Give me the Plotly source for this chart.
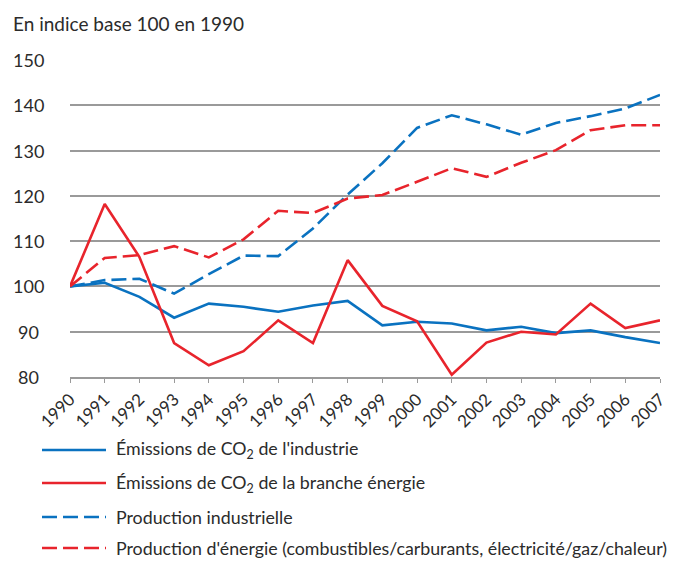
import plotly.graph_objects as go

years = list(range(1990, 2008))
co2_industrie = [100, 100.8, 97.7, 93.1, 96.2, 95.5, 94.4, 95.8, 96.8, 91.4, 92.2, 91.8, 90.3, 91.1, 89.7, 90.3, 88.8, 87.5]
co2_energie = [100, 118.2, 106.5, 87.5, 82.6, 85.7, 92.5, 87.5, 105.8, 95.7, 92.3, 80.5, 87.6, 90.0, 89.4, 96.2, 90.8, 92.5]
prod_industrielle = [100, 101.4, 101.7, 98.4, 102.7, 106.8, 106.7, 112.8, 120.3, 127.2, 135.0, 137.8, 135.8, 133.5, 136.1, 137.6, 139.3, 142.3]
prod_energie = [100, 106.3, 106.9, 108.9, 106.4, 110.4, 116.7, 116.2, 119.4, 120.2, 123.1, 126.1, 124.2, 127.3, 130.1, 134.5, 135.6, 135.6]

names = [
    "Émissions de CO<sub>2</sub> de l'industrie",
    "Émissions de CO<sub>2</sub> de la branche énergie",
    "Production industrielle",
    "Production d'énergie (combustibles/carburants, électricité/gaz/chaleur)",
]
y_ticks = [80, 90, 100, 110, 120, 130, 140, 150]
title_text = "En indice base 100 en 1990"

BLUE = "#0a72c0"
RED = "#e8242c"
FONT = "Lato, Liberation Sans, sans-serif"
TXT = "#2b2b2b"
DASH = "15px,6px"

series = [
    (co2_industrie, BLUE, "solid"),
    (co2_energie, RED, "solid"),
    (prod_industrielle, BLUE, DASH),
    (prod_energie, RED, DASH),
]

# the page body adds an 8px offset; figure is sized to fill the rest of the window
OFF = 8
W, H = 678 - OFF, 561 - OFF
ML, MT = 70 - OFF, 60 - OFF
MR = W - (660 - OFF)
MB = H - (377 - OFF)
PW, PH = W - ML - MR, H - MT - MB


def px_x(px):
    return (px - OFF - ML) / PW


def px_y(py):
    return (H - MB - (py - OFF)) / PH


fig = go.Figure()
shapes = []
annotations = [dict(
    text=title_text, xref="paper", yref="paper",
    x=px_x(11), y=px_y(23), xanchor="left", yanchor="middle",
    showarrow=False, font=dict(family=FONT, size=19, color=TXT),
)]
for v in y_ticks:
    annotations.append(dict(
        text=str(v), xref="paper", yref="y", x=px_x(28), y=v,
        xanchor="center", yanchor="middle", showarrow=False,
        font=dict(family=FONT, size=18, color=TXT),
    ))

legend_y = [450, 483, 517, 548]
for i, ((vals, col, dash), nm) in enumerate(zip(series, names)):
    fig.add_trace(go.Scatter(
        x=years, y=vals, mode="lines", name=nm,
        line=dict(color=col, width=2.6, dash=dash),
        showlegend=False,
    ))
    shapes.append(dict(
        type="line", xref="paper", yref="paper",
        x0=px_x(42), x1=px_x(106), y0=px_y(legend_y[i]), y1=px_y(legend_y[i]),
        line=dict(color=col, width=2.6, dash="solid" if dash == "solid" else DASH),
    ))
    annotations.append(dict(
        text=nm, xref="paper", yref="paper",
        x=px_x(114), y=px_y(legend_y[i]), xanchor="left", yanchor="middle",
        showarrow=False, font=dict(family=FONT, size=17.8, color=TXT),
    ))

fig.update_layout(
    width=W, height=H,
    margin=dict(l=ML, r=MR, t=MT, b=MB, autoexpand=False),
    paper_bgcolor="white", plot_bgcolor="white",
    font=dict(family=FONT, size=17, color=TXT),
    showlegend=False,
    shapes=shapes,
    annotations=annotations,
)
fig.update_xaxes(
    range=[1990, 2007], tickmode="array", tickvals=years,
    ticktext=[str(y) for y in years], tickangle=-45,
    showgrid=False, showline=True, linecolor="#9a9a9a", linewidth=1.5,
    ticks="outside", ticklen=4, tickcolor="#9a9a9a",
    tickfont=dict(family=FONT, size=17, color=TXT),
    zeroline=False,
)
fig.update_yaxes(
    range=[80, 150], tickmode="array", tickvals=y_ticks,
    showgrid=True, gridcolor="#9a9a9a", gridwidth=1.5,
    showline=False, zeroline=False, ticks="", showticklabels=False,
)

fig.write_html("out.html")
